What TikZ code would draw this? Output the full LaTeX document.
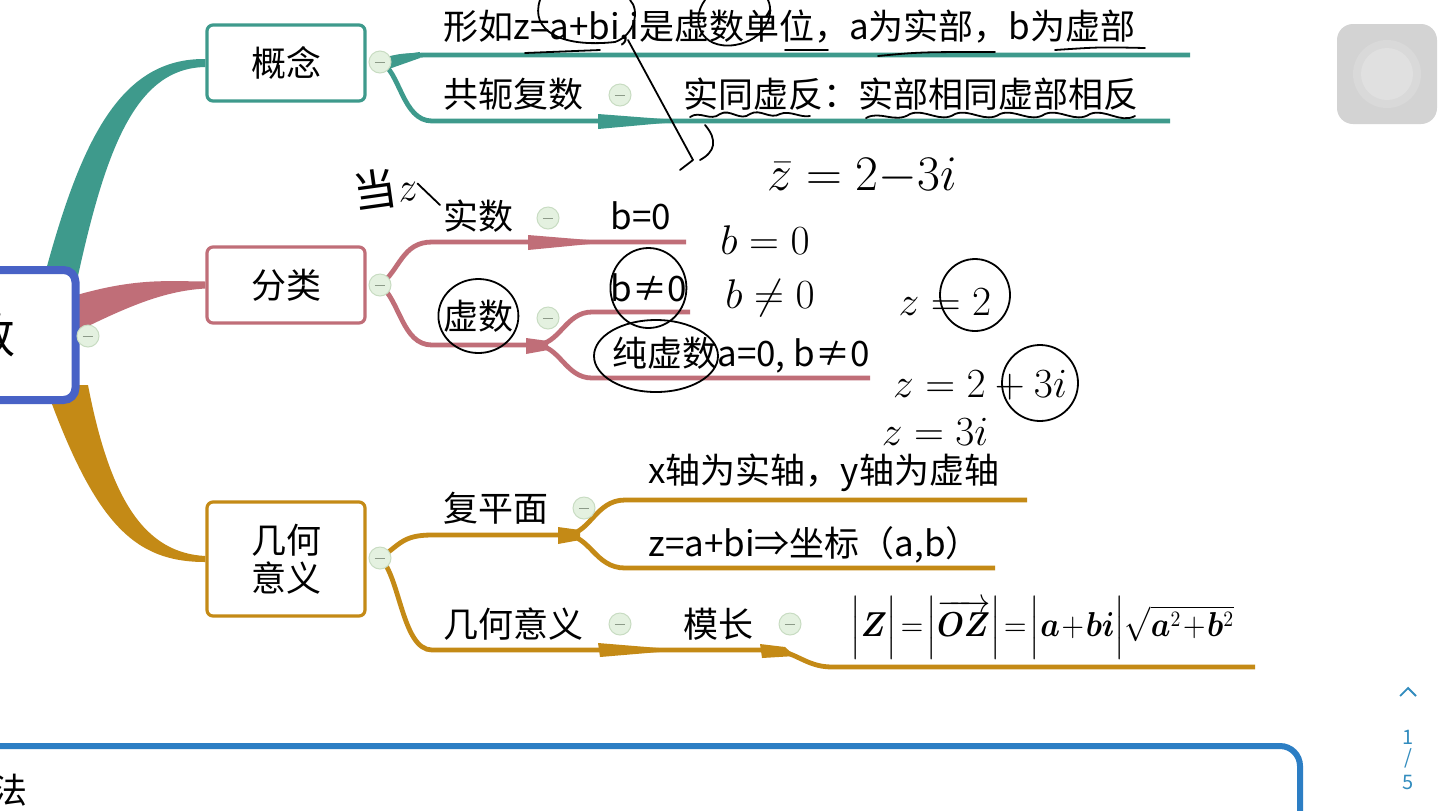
\documentclass[tikz,border=0pt]{standalone}
\usepackage{fontspec}
\usepackage{amsmath}
\usepackage{bm}
\usepackage{graphicx}
\setmainfont{Noto Sans CJK SC}
\usetikzlibrary{calc}
\definecolor{mteal}{RGB}{62,154,140}
\definecolor{mrose}{RGB}{192,110,120}
\definecolor{mgold}{RGB}{196,138,22}
\definecolor{mblue}{RGB}{72,98,198}
\definecolor{bblue}{RGB}{44,126,196}
\definecolor{togf}{RGB}{228,241,224}
\definecolor{togd}{RGB}{200,220,194}
\definecolor{pgc}{RGB}{50,140,190}
\definecolor{btna}{RGB}{211,211,211}
\definecolor{btnb}{RGB}{217,217,217}
\definecolor{btnc}{RGB}{224,224,224}
\newcommand\fs{\fontsize{17.5}{19}\selectfont}
\pgfdeclarelayer{bg}
\pgfsetlayers{bg,main}
\tikzset{
  box/.style={draw, line width=1.6pt, rounded corners=3pt, fill=white, minimum width=79pt, minimum height=38pt, font=\fs, align=center, inner sep=2pt},
  rootbox/.style={draw=mblue, line width=4pt, rounded corners=6pt, fill=white, minimum width=107.5pt, minimum height=65pt, font=\fontsize{24}{28}\selectfont},
  tog/.style={circle, draw=togd, fill=togf, line width=0.5pt, minimum size=11pt, inner sep=0pt,
    path picture={\draw[togd!70!black, line width=0.5pt] ([xshift=-2.6pt]path picture bounding box.center) -- ([xshift=2.6pt]path picture bounding box.center);}},
  lbl/.style={anchor=west, inner sep=0pt, font=\fs},
  sb/.style={line width=2.4pt},
  hw/.style={black, line width=0.9pt, line cap=round, line join=round},
  hwt/.style={inner sep=0pt, font=\fontsize{22}{24}\selectfont},
  pg/.style={inner sep=0pt, text=pgc, font=\fontsize{10}{12}\selectfont}
}
\begin{document}
\begin{tikzpicture}[x=0.5pt,y=-0.5pt]
\useasboundingbox (0,0) rectangle (1440,810);
\clip (0,0) rectangle (1440,810);
\begin{pgfonlayer}{bg}
\fill[white] (0,0) rectangle (1440,810);
\end{pgfonlayer}

% main nodes
\node[rootbox] (root) at (-32,335) {复数};
\node[tog] (tr) at (88,336) {};
\node[box, draw=mteal] (gn) at (286,63) {概念};
\node[box, draw=mrose] (fl) at (286,285) {分类};
\node[box, draw=mgold, minimum height=57pt] (jh) at (286,559) {几何\\意义};
\node[tog] (t1) at (380,62) {};
\node[tog] (t2) at (380,285) {};
\node[tog] (t3) at (380,558) {};

% labels
\node[lbl] (c1) at (443,28) {形如z=a+bi,i是虚数单位，a为实部，b为虚部};
\node[lbl] (c2) at (443,94) {共轭复数};
\node[tog] (t4) at (620,95) {};
\node[lbl] (c3) at (683,94) {实同虚反：实部相同虚部相反};
\node[lbl] (f1) at (443,216) {实数};
\node[tog] (t5) at (548,218) {};
\node[lbl] (f2) at (610,216) {b=0};
\node[lbl] (f3) at (443,316) {虚数};
\node[tog] (t6) at (548,318) {};
\node[lbl] (f4) at (610,288) {b≠0};
\node[lbl] (f5) at (612,355) {纯虚数a=0, b≠0};
\node[lbl] (j1) at (443,508) {复平面};
\node[tog] (t7) at (584,508) {};
\node[lbl] (j2) at (648,473) {x轴为实轴，y轴为虚轴};
\node[lbl] (j3) at (648,545) {z=a+bi⇒坐标（a,b）};
\node[lbl] (j4) at (443,624) {几何意义};
\node[tog] (t8) at (620,624) {};
\node[lbl] (j5) at (683,624) {模长};
\node[tog] (t9) at (790,624) {};
\node[lbl, font=\fontsize{16}{18}\selectfont] (j6) at (850,628) {\scalebox{0.9}[1]{$\Bigl|\bm{Z}\Bigr|\!=\!\Bigl|\overrightarrow{\bm{OZ}}\Bigr|\!=\!\Bigl|\bm{a}\!+\!\bm{bi}\Bigr|\sqrt{\bm{a}^2\!+\!\bm{b}^2}$}};

% bottom box and side controls
\node[draw=bblue, line width=3pt, rounded corners=10pt, minimum width=670pt, minimum height=77pt] (mb) at (630,823) {};
\node[lbl, anchor=east] (mbt) at (28,790) {方法};
\node[fill=btna, rounded corners=8pt, minimum size=50pt, inner sep=0pt] (btn) at (1387,74) {};
\fill[btnb] (btn.center) circle (34);
\fill[btnc] (btn.center) circle (26);
\node[pg] (p1) at (1408,737) {1};
\node[pg] (p2) at (1408,758) {/};
\node[pg] (p3) at (1408,782) {5};
\coordinate (up) at (1408,688);
\draw[pgc, line width=0.9pt] ($(up)+(-8,8)$) -- (up) -- ($(up)+(8,8)$);

% branches
\begin{pgfonlayer}{bg}
\fill[mteal] (42,285) .. controls (80,140) and (120,58) .. ($(gn.west)+(0,-4)$) -- ($(gn.west)+(0,4)$) .. controls (135,68) and (105,150) .. (76,285) -- cycle;
\fill[mrose] (60,300) .. controls (130,278) and (160,281) .. ($(fl.west)+(0,-3.5)$) -- ($(fl.west)+(0,3.5)$) .. controls (160,291) and (120,310) .. (60,340) -- cycle;
\fill[mgold] (45,385) .. controls (95,525) and (135,562) .. ($(jh.west)+(0,3)$) -- ($(jh.west)+(0,-3)$) .. controls (145,553) and (110,500) .. (88,385) -- cycle;

\draw[sb, mteal] (t1.center) .. controls (398,56) .. (425,55) -- (1190,55);
\fill[mteal] (383,57) -- (420,52) -- (420,58) -- (386,70) -- cycle;
\draw[sb, mteal] (t1.center) .. controls (400,70) and (402,121) .. (432,121) -- (1170,121);
\fill[mteal] (598,114) -- (670,119.5) -- (670,122.5) -- (598,129) -- cycle;

\draw[sb, mrose] (t2.center) .. controls (400,270) and (402,242) .. (432,242) -- (686,242);
\fill[mrose] (528,235) -- (595,240.5) -- (595,243.5) -- (528,250) -- cycle;
\draw[sb, mrose] (t2.center) .. controls (400,300) and (402,345) .. (432,345) -- (540,345);
\draw[sb, mrose] (535,345) .. controls (560,345) and (565,312) .. (592,312) -- (690,312);
\draw[sb, mrose] (535,345) .. controls (560,345) and (565,378) .. (592,378) -- (870,378);
\fill[mrose] (526,338) -- (548,341) -- (548,350) -- (526,354) -- cycle;

\draw[sb, mgold] (t3.center) .. controls (400,545) and (402,535) .. (432,535) -- (572,535);
\draw[sb, mgold] (565,535) .. controls (590,535) and (595,500) .. (625,500) -- (1027,500);
\draw[sb, mgold] (565,535) .. controls (590,535) and (595,568) .. (625,568) -- (995,568);
\fill[mgold] (558,527) -- (580,530) -- (580,540) -- (558,544) -- cycle;
\draw[sb, mgold] (t3.center) .. controls (400,575) and (402,650) .. (432,650) -- (770,650) .. controls (795,650) and (805,667) .. (832,667) -- (1255,667);
\fill[mgold] (598,643) -- (665,648.5) -- (665,651.5) -- (600,657) -- cycle;
\fill[mgold] (760,644) -- (785,647) -- (795,656) -- (762,658) -- cycle;
\end{pgfonlayer}

% handwriting
\draw[hw] (f3.center) ellipse (40 and 37);
\draw[hw] (f4.center) ellipse (38 and 40);
\draw[hw] (656,356) ellipse (62 and 36);
\draw[hw] (540,0) .. controls (530,30) and (560,48) .. (615,42) .. controls (635,35) and (640,10) .. (630,0);
\draw[hw] (705,0) .. controls (690,20) and (700,50) .. (735,45) .. controls (765,40) and (775,15) .. (768,0);
\draw[hw] (628,40) -- (693,160) -- (680,170);
\draw[hw] (705,125) .. controls (718,140) and (715,152) .. (700,160);
\draw[hw] (525,53) -- (600,50);
\draw[hw] (785,50) -- (828,50);
\draw[hw] (878,56) .. controls (920,52) .. (995,52);
\draw[hw] (1055,50) .. controls (1100,47) .. (1145,48);
\draw[hw] (690,117) .. controls (700,110) and (710,122) .. (720,114) .. controls (730,108) and (740,122) .. (750,114) .. controls (760,108) and (770,120) .. (780,114) .. controls (790,110) and (800,118) .. (810,116);
\draw[hw] (866,118) .. controls (880,110) and (895,124) .. (910,114) .. controls (925,108) and (940,124) .. (955,114) .. controls (970,108) and (985,124) .. (1000,114) .. controls (1015,108) and (1030,124) .. (1045,114) .. controls (1060,108) and (1075,124) .. (1090,114) .. controls (1105,108) and (1120,124) .. (1135,116);
\node[hwt, rotate=8] (h1) at (385,188) {当$z$};
\draw[hw] (h1.east) -- (440,205);
\node[hwt, font=\fontsize{26}{28}\selectfont] (h2) at (862,176) {$\bar z = 2{-}3i$};
\node[hwt] (h3) at (765,240) {$b=0$};
\node[hwt] (h4) at (770,298) {$b\neq 0$};
\node[hwt] (h5) at (945,302) {$z=2$};
\draw[hw] (975,295) ellipse (35 and 36);
\node[hwt] (h6) at (980,385) {$z=2+3i$};
\draw[hw] (1040,383) ellipse (38 and 38);
\node[hwt] (h7) at (935,432) {$z=3i$};
\end{tikzpicture}
\end{document}
